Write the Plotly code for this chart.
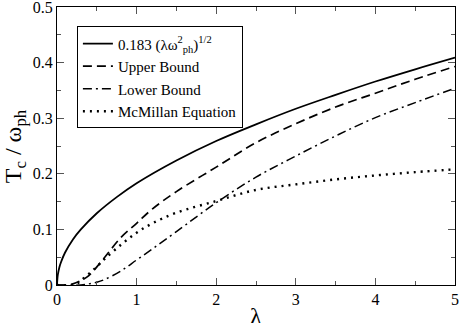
import plotly.graph_objects as go

# Solid curve: 0.183 (lambda w_ph^2)^(1/2)
lam_solid = [0, 0.01, 0.03, 0.05, 0.1, 0.2, 0.3, 0.5, 0.75, 1, 1.5, 2, 2.5, 3, 3.5, 4, 4.5, 5]
tc_solid = [0, 0.018, 0.032, 0.041, 0.058, 0.082, 0.100, 0.129, 0.158, 0.183, 0.224,
            0.259, 0.289, 0.317, 0.342, 0.366, 0.388, 0.409]

# Upper bound (dashed)
lam_upper = [0, 0.1, 0.2, 0.3, 0.4, 0.6, 0.8, 1.0, 1.2, 1.5, 2, 2.5, 3, 3.5, 4, 4.5, 5]
tc_upper = [0, 0, 0.002, 0.008, 0.017, 0.050, 0.085, 0.111, 0.137, 0.168, 0.212,
            0.256, 0.290, 0.320, 0.345, 0.370, 0.393]

# Lower bound (dash-dot)
lam_lower = [0, 0.3, 0.4, 0.5, 0.6, 0.8, 1.0, 1.2, 1.5, 2, 2.5, 3, 3.5, 4, 4.5, 5]
tc_lower = [0, 0, 0.002, 0.005, 0.010, 0.025, 0.045, 0.065, 0.096, 0.148, 0.194,
            0.232, 0.268, 0.301, 0.328, 0.354]

# McMillan equation (dotted)
lam_mcm = [0, 0.2, 0.25, 0.3, 0.4, 0.5, 0.6, 0.8, 1.0, 1.2, 1.5, 2, 2.5, 3, 3.5, 4, 4.5, 5]
tc_mcm = [0, 0, 0.002, 0.008, 0.020, 0.033, 0.047, 0.072, 0.094, 0.111, 0.130, 0.151,
          0.171, 0.181, 0.190, 0.197, 0.203, 0.208]

x_ticks = [0, 1, 2, 3, 4, 5]
y_ticks = [0, 0.1, 0.2, 0.3, 0.4, 0.5]
x_title = "λ"
y_title = "T<sub>c</sub> / ω<sub>ph</sub>"

FONT = "Liberation Serif"

fig = go.Figure()
fig.add_trace(go.Scatter(x=lam_solid, y=tc_solid, mode="lines", line_shape="spline",
                         name="0.183 (λω<sup>2</sup><sub>ph</sub>)<sup>1/2</sup>",
                         line=dict(color="black", width=1.8, dash="solid")))
fig.add_trace(go.Scatter(x=lam_upper, y=tc_upper, mode="lines", line_shape="spline",
                         name="Upper Bound",
                         line=dict(color="black", width=1.7, dash="9px,5px")))
fig.add_trace(go.Scatter(x=lam_lower, y=tc_lower, mode="lines", line_shape="spline",
                         name="Lower Bound",
                         line=dict(color="black", width=1.5, dash="9px,4px,2px,4px")))
fig.add_trace(go.Scatter(x=lam_mcm, y=tc_mcm, mode="lines", line_shape="spline",
                         name="McMillan Equation",
                         line=dict(color="black", width=2.4, dash="2px,5px")))

axis_common = dict(
    showline=True, linecolor="black", linewidth=1.2, mirror="ticks",
    ticks="inside", ticklen=7, tickwidth=1, tickcolor="#555",
    showgrid=False, zeroline=False, automargin=False,
    tickfont=dict(family=FONT, size=16, color="black"),
)

fig.update_xaxes(range=[0, 5], tickvals=x_ticks, ticktext=[str(v) for v in x_ticks],
                 ticklabeloverflow="allow",
                 minor=dict(ticks="inside", ticklen=4, tickcolor="#555", dtick=0.5, tick0=0),
                 **axis_common)
fig.update_yaxes(range=[0, 0.5], tickvals=y_ticks, ticktext=["0", "0.1", "0.2", "0.3", "0.4", "0.5"],
                 ticklabeloverflow="allow",
                 minor=dict(ticks="inside", ticklen=4, tickcolor="#555", dtick=0.05, tick0=0),
                 **axis_common)

fig.add_annotation(text=x_title, xref="paper", yref="paper", x=0.5, y=-0.11,
                   xanchor="center", yanchor="middle", showarrow=False,
                   font=dict(family=FONT, size=24, color="black"))
fig.add_annotation(text=y_title, xref="paper", yref="paper", x=-0.105, y=0.5,
                   xanchor="center", yanchor="middle", showarrow=False, textangle=-90,
                   font=dict(family=FONT, size=24, color="black"))

fig.update_layout(
    width=460, height=323,
    margin=dict(l=57, r=5, t=7, b=38),
    paper_bgcolor="white", plot_bgcolor="white",
    font=dict(family=FONT, color="black"),
    showlegend=True,
    legend=dict(x=0.05, y=0.93, xanchor="left", yanchor="top",
                bgcolor="white", bordercolor="black", borderwidth=1,
                font=dict(family=FONT, size=15, color="black"),
                itemwidth=30, tracegroupgap=0),
)

fig.write_html("out.html",
               config={"displayModeBar": False},
               post_script="document.body.style.margin='0';document.body.style.overflow='hidden';")
